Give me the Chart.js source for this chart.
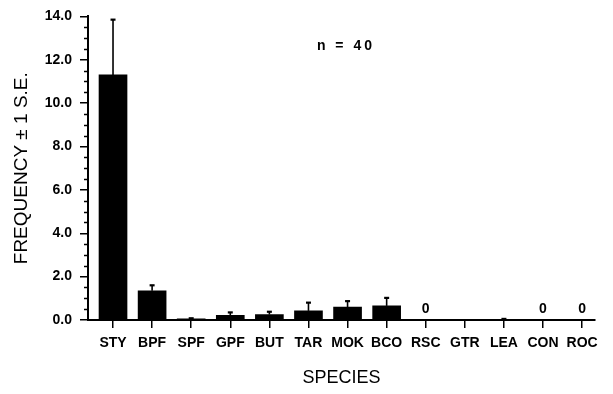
<!DOCTYPE html>
<html><head><meta charset="utf-8">
<script src="https://cdn.jsdelivr.net/npm/chart.js@4/dist/chart.umd.min.js"></script>
<style>html,body{margin:0;padding:0;background:#fff}#wrap{width:613px;height:394px}</style>
</head><body><div id="wrap"><canvas id="c" width="613" height="394"></canvas></div>
<script>
const categories = ['STY','BPF','SPF','GPF','BUT','TAR','MOK','BCO','RSC','GTR','LEA','CON','ROC'];
const frequency = [11.3, 1.35, 0.05, 0.22, 0.25, 0.42, 0.6, 0.65, 0, 0, 0.03, 0, 0];
const standardError = [2.55, 0.25, 0.03, 0.13, 0.13, 0.38, 0.27, 0.37, 0, 0, 0.02, 0, 0];
const zeroLabelled = ['RSC', 'CON', 'ROC'];
const yMajorStep = 2;
const yMinorStep = 0.5;
const yMax = 14;
const sampleNote = 'n = 40';

const FONT = "'Liberation Sans', Arial, Helvetica, sans-serif";

const extras = {
  id: 'extras',
  afterDraw(chart) {
    const ctx = chart.ctx;
    const xs = chart.scales.x, ys = chart.scales.y;
    const left = chart.chartArea.left;
    ctx.save();
    ctx.strokeStyle = '#000';
    ctx.lineWidth = 1.5;
    // minor y ticks
    for (let v = 0; v <= yMax + 1e-9; v += yMinorStep) {
      if (Math.abs(v / yMajorStep - Math.round(v / yMajorStep)) < 1e-6) continue;
      const py = Math.round(ys.getPixelForValue(v)) + 0.5;
      ctx.beginPath(); ctx.moveTo(left - 4, py); ctx.lineTo(left, py); ctx.stroke();
    }
    // error bars
    categories.forEach((c, i) => {
      const se = standardError[i];
      if (!se) return;
      const px = xs.getPixelForValue(i);
      const y1 = ys.getPixelForValue(frequency[i]);
      const y2 = ys.getPixelForValue(frequency[i] + se);
      ctx.lineWidth = 1.6;
      ctx.beginPath(); ctx.moveTo(px, y1); ctx.lineTo(px, y2); ctx.stroke();
      ctx.lineWidth = 2.2;
      ctx.beginPath(); ctx.moveTo(px - 2.5, y2); ctx.lineTo(px + 2.5, y2); ctx.stroke();
    });
    // zero labels
    ctx.fillStyle = '#000';
    ctx.font = 'bold 14px ' + FONT;
    ctx.textAlign = 'center';
    ctx.textBaseline = 'middle';
    zeroLabelled.forEach(c => {
      const i = categories.indexOf(c);
      ctx.fillText('0', xs.getPixelForValue(i), ys.getPixelForValue(0) - 11);
    });
    // sample size note
    ctx.font = 'bold 14px ' + FONT;
    ctx.letterSpacing = '3px';
    ctx.fillText(sampleNote, xs.getPixelForValue(5.92) + 1.5, ys.getPixelForValue(12.63));
    ctx.restore();
  }
};

new Chart(document.getElementById('c'), {
  type: 'bar',
  data: {
    datasets: [{
      data: frequency.map((v, i) => ({x: i, y: v})),
      backgroundColor: '#000',
      borderWidth: 0,
      barThickness: 28
    }]
  },
  options: {
    responsive: false,
    animation: false,
    devicePixelRatio: 1,
    layout: {padding: {top: 13, right: 18, left: 0, bottom: 0}},
    plugins: {legend: {display: false}, tooltip: {enabled: false}},
    scales: {
      x: {
        type: 'linear',
        offset: false,
        min: -0.64,
        max: 12.33,
        afterBuildTicks: s => { s.ticks = categories.map((c, i) => ({value: i})); },
        afterFit: s => { s.height = 74; },
        ticks: {
          autoSkip: false, maxRotation: 0, color: '#000', padding: 7,
          font: {family: FONT, size: 14, weight: 'bold'},
          callback: v => categories[v]
        },
        grid: {offset: false, drawOnChartArea: false, tickLength: 8, color: '#000', lineWidth: 1.5},
        border: {color: '#000', width: 2},
        title: {display: true, text: 'SPECIES', color: '#000',
          font: {family: FONT, size: 18}, padding: {top: 0, bottom: 5}}
      },
      y: {
        min: 0, max: yMax,
        afterFit: s => { s.width = 88; },
        ticks: {
          stepSize: yMajorStep, color: '#000', padding: 8,
          font: {family: FONT, size: 14, weight: 'bold'},
          callback: v => v.toFixed(1)
        },
        grid: {drawOnChartArea: false, tickLength: 8, color: '#000', lineWidth: 1.5},
        border: {color: '#000', width: 2},
        title: {display: true, text: 'FREQUENCY ± 1 S.E.', color: '#000',
          font: {family: FONT, size: 19}, padding: {top: 10, bottom: 0}}
      }
    }
  },
  plugins: [extras]
});
</script>
</body></html>
